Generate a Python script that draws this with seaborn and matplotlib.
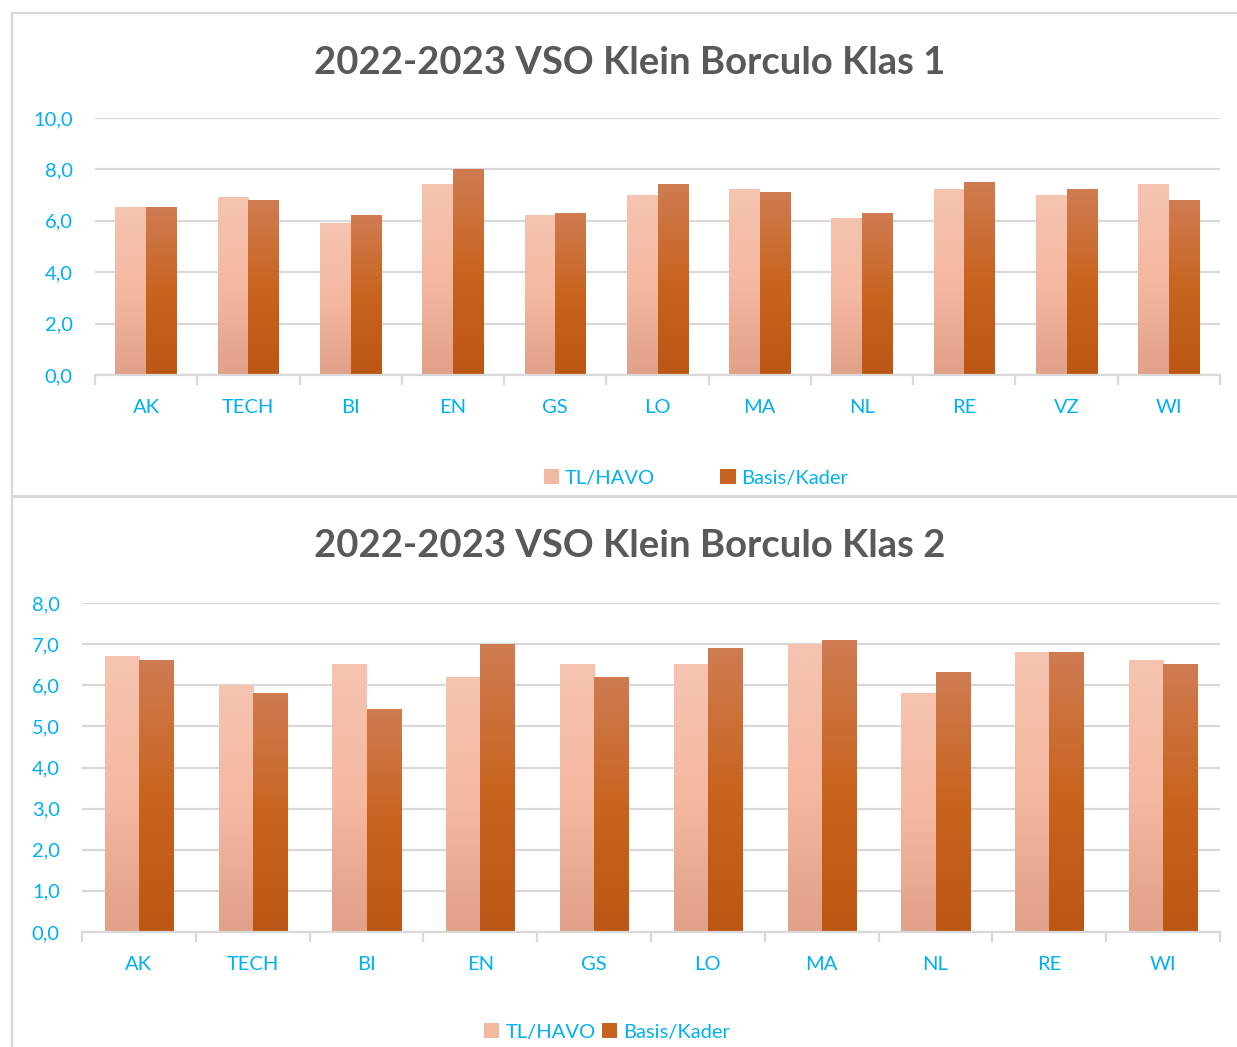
import numpy as np
import pandas as pd
import matplotlib
matplotlib.use("Agg")
import matplotlib.pyplot as plt
import seaborn as sns
from matplotlib.colors import LinearSegmentedColormap
from matplotlib.patches import Patch, Rectangle
from matplotlib.ticker import FuncFormatter, FixedLocator

# ------------------------------------------------------------
# data
# ------------------------------------------------------------
series_names = ["TL/HAVO", "Basis/Kader"]

klas1_title = "2022-2023 VSO Klein Borculo Klas 1"
klas1_vakken = ["AK", "TECH", "BI", "EN", "GS", "LO", "MA", "NL", "RE", "VZ", "WI"]
klas1_tl = [6.5, 6.9, 5.9, 7.4, 6.2, 7.0, 7.2, 6.1, 7.2, 7.0, 7.4]
klas1_basis = [6.5, 6.8, 6.2, 8.0, 6.3, 7.4, 7.1, 6.3, 7.5, 7.2, 6.8]

klas2_title = "2022-2023 VSO Klein Borculo Klas 2"
klas2_vakken = ["AK", "TECH", "BI", "EN", "GS", "LO", "MA", "NL", "RE", "WI"]
klas2_tl = [6.7, 6.0, 6.5, 6.2, 6.5, 6.5, 7.0, 5.8, 6.8, 6.6]
klas2_basis = [6.6, 5.8, 5.4, 7.0, 6.2, 6.9, 7.1, 6.3, 6.8, 6.5]

# ------------------------------------------------------------
# style
# ------------------------------------------------------------
sns.set_theme(style="white")
plt.rcParams["font.family"] = ["Lato", "DejaVu Sans"]

BLUE = "#00B0F0"
GRID = "#D9D9D9"
TITLE_GRAY = "#595959"

cmap_tl = LinearSegmentedColormap.from_list("tl", ["#F5C4B0", "#F5B8A0", "#E1A088"])
cmap_basis = LinearSegmentedColormap.from_list("basis", ["#CF7C52", "#C9641F", "#BB5614"])
solid = {"TL/HAVO": "#F3B8A0", "Basis/Kader": "#C8621F"}


def make_df(vakken, tl, basis):
    return pd.DataFrame({
        "vak": vakken * 2,
        "serie": [series_names[0]] * len(vakken) + [series_names[1]] * len(vakken),
        "cijfer": list(tl) + list(basis),
    })


def comma_fmt(v, pos):
    return f"{v:.1f}".replace(".", ",")


def draw_panel(ax, df, ymax, step):
    sns.barplot(data=df, x="vak", y="cijfer", hue="serie", palette=solid,
                width=0.6, legend=False, ax=ax, zorder=3, linewidth=0)
    n = df["vak"].nunique()
    ax.set_xlabel("")
    ax.set_ylabel("")

    # gradient fill over each seaborn bar
    grad = np.linspace(0, 1, 256).reshape(-1, 1)
    for i, bar in enumerate(ax.patches):
        cm = cmap_tl if i < n else cmap_basis
        x, w, h = bar.get_x(), bar.get_width(), bar.get_height()
        ax.imshow(grad, cmap=cm, aspect="auto", extent=[x, x + w, 0, h],
                  origin="upper", zorder=4, interpolation="bicubic")
        bar.set_alpha(0)
    ax.set_xlim(-0.5, n - 0.5)
    ax.set_ylim(0, ymax)

    ax.yaxis.set_major_locator(FixedLocator(np.arange(0, ymax + 0.01, step)))
    ax.yaxis.set_major_formatter(FuncFormatter(comma_fmt))
    ax.grid(axis="y", color=GRID, linewidth=1.6, zorder=0)
    ax.set_axisbelow(True)

    for s in ["left", "right", "top"]:
        ax.spines[s].set_visible(False)
    ax.spines["bottom"].set_color(GRID)
    ax.spines["bottom"].set_linewidth(1.6)
    ax.spines["bottom"].set_zorder(5)

    ax.set_xticks(np.arange(-0.5, n, 1.0), minor=True)
    ax.tick_params(axis="x", which="major", length=0, pad=17, labelsize=14.5,
                   labelcolor=BLUE)
    ax.tick_params(axis="x", which="minor", length=7, width=1.6, color=GRID,
                   direction="out", bottom=True)
    ax.tick_params(axis="y", length=0, pad=16, labelsize=14.5, labelcolor=BLUE)


fig = plt.figure(figsize=(12.37, 10.47), dpi=100)

# panel frames
fig.patches.append(Rectangle((12 / 1237, 1 - 496 / 1047), 1.0, 483 / 1047,
                             transform=fig.transFigure, fill=False,
                             edgecolor=GRID, linewidth=1.6, zorder=0))
fig.patches.append(Rectangle((12 / 1237, -0.05), 1.0, 0.05 + 1 - 497 / 1047,
                             transform=fig.transFigure, fill=False,
                             edgecolor=GRID, linewidth=1.6, zorder=0))

ax1 = fig.add_axes([95 / 1237, 1 - 375 / 1047, 1125 / 1237, 257 / 1047])
draw_panel(ax1, make_df(klas1_vakken, klas1_tl, klas1_basis), 10, 2)

ax2 = fig.add_axes([82 / 1237, 1 - 932 / 1047, 1138 / 1237, 329 / 1047])
draw_panel(ax2, make_df(klas2_vakken, klas2_tl, klas2_basis), 8, 1)

fig.text(630 / 1237, 1 - 63 / 1047, klas1_title, ha="center", va="center",
         fontsize=27.5, fontweight="bold", color=TITLE_GRAY)
fig.text(630 / 1237, 1 - 546 / 1047, klas2_title, ha="center", va="center",
         fontsize=27.5, fontweight="bold", color=TITLE_GRAY)

handles = [Patch(facecolor=solid[s], edgecolor="none", label=s) for s in series_names]
leg_kw = dict(frameon=False, fontsize=14.5, handlelength=0.75, handleheight=0.75,
              handletextpad=0.3, labelcolor=BLUE, loc="center", ncol=2)
fig.legend(handles=handles, bbox_to_anchor=(696 / 1237, 1 - 478 / 1047),
           columnspacing=3.25, **leg_kw)
fig.legend(handles=handles, bbox_to_anchor=(607 / 1237, 1 - 1032 / 1047),
           columnspacing=0.3, **leg_kw)

fig.savefig("out.png", dpi=100)
